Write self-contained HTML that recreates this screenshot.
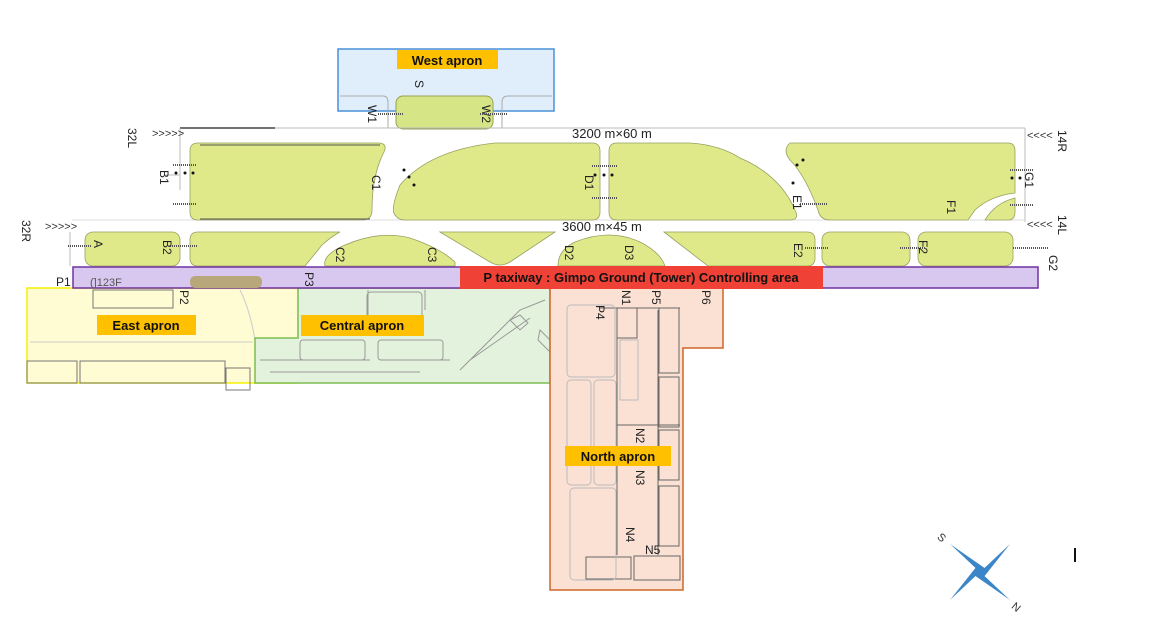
<!DOCTYPE html>
<html><head><meta charset="utf-8"><style>
html,body{margin:0;padding:0;background:#fff;}
svg{display:block;font-family:"Liberation Sans",sans-serif;}
.l{font-size:12px;fill:#222;}
.t{font-size:13px;font-weight:bold;fill:#111;}
</style></head><body>
<svg width="1159" height="631" viewBox="0 0 1159 631" xmlns="http://www.w3.org/2000/svg">
<!-- West apron -->
<rect x="338" y="49" width="216" height="62" fill="#e0eefb" stroke="#4a90d9" stroke-width="1.5"/>
<path d="M340 96 H383 Q388 96 388 102 V128" fill="none" stroke="#aaa"/>
<path d="M552 96 H508 Q502 96 502 102 V128" fill="none" stroke="#aaa"/>
<rect x="396" y="96" width="97" height="33" rx="7" fill="#d6e586" stroke="#9aa050"/>
<rect x="397" y="50" width="101" height="19" fill="#ffc000"/>
<text x="447" y="65" text-anchor="middle" class="t">West apron</text>
<text class="l" transform="translate(415,80) rotate(90)">S</text>
<text class="l" transform="translate(368,105) rotate(90)">W1</text>
<text class="l" transform="translate(482,105) rotate(90)">W2</text>
<!-- runway edges -->
<line x1="180" y1="128" x2="1025" y2="128" stroke="#bbb"/>
<line x1="180" y1="128" x2="275" y2="128" stroke="#444" stroke-width="1.5"/>
<path d="M180 128 V190 M180 175 H165 M70 232 V266" stroke="#bbb" fill="none"/>
<line x1="1025" y1="128" x2="1025" y2="222" stroke="#bbb"/>
<line x1="72" y1="220" x2="1025" y2="220" stroke="#ddd"/>
<text x="152" y="137" font-size="11" fill="#333">&gt;&gt;&gt;&gt;&gt;</text>
<text x="45" y="230" font-size="11" fill="#333">&gt;&gt;&gt;&gt;&gt;</text>
<text x="1027" y="139" font-size="11" fill="#333">&lt;&lt;&lt;&lt;</text>
<text x="1027" y="228" font-size="11" fill="#333">&lt;&lt;&lt;&lt;</text>
<text class="l" transform="translate(128,128) rotate(90)">32L</text>
<text class="l" transform="translate(22,220) rotate(90)">32R</text>
<text class="l" transform="translate(1058,130) rotate(90)">14R</text>
<text class="l" transform="translate(1058,215) rotate(90)">14L</text>
<text x="572" y="138" font-size="13" fill="#222">3200 m×60 m</text>
<text x="562" y="231" font-size="13" fill="#222">3600 m×45 m</text>
<!-- upper grass -->
<g fill="#dfe98a" stroke="#98a060" stroke-width="0.8">
<path d="M198 143 H378 Q388 143 384 152 Q372 175 372 210 Q372 220 362 220 H198 Q190 220 190 212 V151 Q190 143 198 143Z"/>
<path d="M405 220 H592 Q600 220 600 212 V151 Q600 143 592 143 H495 Q430 150 400 185 Q390 210 395 215 Q398 220 405 220Z"/>
<path d="M617 220 H790 Q800 220 795 210 Q780 175 740 158 Q720 145 690 143 H617 Q609 143 609 151 V212 Q609 220 617 220Z"/>
<path d="M790 143 H1008 Q1015 143 1015 151 V193 Q990 196 975 210 L968 220 H830 Q820 220 818 210 Q805 175 790 160 Q782 150 790 143Z"/>
<path d="M985 220 H1008 Q1015 220 1015 212 V198 Q995 203 985 220Z"/>
<!-- lower grass -->
<rect x="85" y="232" width="95" height="34" rx="8"/>
<path d="M198 232 H340 Q332 236 322 245 L305 266 H198 Q190 266 190 258 V240 Q190 232 198 232Z"/>
<path d="M325 266 Q322 255 345 245 Q380 230 410 238 Q440 248 455 262 L455 266Z"/>
<path d="M440 232 H555 L510 262 Q500 268 490 262Z"/>
<path d="M558 266 Q558 250 575 242 Q610 228 640 242 Q660 252 665 266Z"/>
<path d="M664 232 H807 Q815 232 815 240 V258 Q815 266 807 266 H708Z"/>
<rect x="822" y="232" width="88" height="34" rx="8"/>
<rect x="918" y="232" width="95" height="34" rx="8"/>
</g>
<line x1="200" y1="145" x2="380" y2="145" stroke="#555"/>
<line x1="200" y1="219" x2="370" y2="219" stroke="#555"/>
<!-- hold marks -->
<g stroke="#555" stroke-width="2" stroke-dasharray="1 1">
<line x1="173" y1="165" x2="197" y2="165"/><line x1="173" y1="204" x2="197" y2="204"/>
<line x1="68" y1="246" x2="92" y2="246"/><line x1="170" y1="246" x2="197" y2="246"/>
<line x1="592" y1="166" x2="617" y2="166"/><line x1="592" y1="198" x2="617" y2="198"/>
<line x1="800" y1="204" x2="828" y2="204"/><line x1="1010" y1="170" x2="1033" y2="170"/>
<line x1="1010" y1="205" x2="1033" y2="205"/><line x1="805" y1="248" x2="828" y2="248"/>
<line x1="900" y1="248" x2="925" y2="248"/><line x1="1013" y1="248" x2="1048" y2="248"/>
<line x1="378" y1="114" x2="404" y2="114"/><line x1="480" y1="114" x2="508" y2="114"/>
</g>
<g fill="#111"><circle cx="176" cy="173" r="1.5"/><circle cx="185" cy="173" r="1.5"/><circle cx="193" cy="173" r="1.5"/>
<circle cx="404" cy="170" r="1.5"/><circle cx="409" cy="177" r="1.5"/><circle cx="414" cy="185" r="1.5"/>
<circle cx="595" cy="175" r="1.5"/><circle cx="604" cy="175" r="1.5"/><circle cx="612" cy="175" r="1.5"/>
<circle cx="793" cy="183" r="1.5"/><circle cx="797" cy="165" r="1.5"/><circle cx="803" cy="160" r="1.5"/>
<circle cx="1012" cy="178" r="1.5"/><circle cx="1020" cy="178" r="1.5"/></g>
<g class="l">
<text transform="translate(160,170) rotate(90)">B1</text>
<text transform="translate(372,175) rotate(90)">C1</text>
<text transform="translate(585,175) rotate(90)">D1</text>
<text transform="translate(793,195) rotate(90)">E1</text>
<text transform="translate(947,200) rotate(90)">F1</text>
<text transform="translate(1025,172) rotate(90)">G1</text>
<text transform="translate(94,240) rotate(90)">A</text>
<text transform="translate(163,240) rotate(90)">B2</text>
<text transform="translate(336,247) rotate(90)">C2</text>
<text transform="translate(428,247) rotate(90)">C3</text>
<text transform="translate(565,245) rotate(90)">D2</text>
<text transform="translate(625,245) rotate(90)">D3</text>
<text transform="translate(794,243) rotate(90)">E2</text>
<text transform="translate(919,240) rotate(90)">F2</text>
<text transform="translate(1049,255) rotate(90)">G2</text>
</g>
<!-- aprons -->
<rect x="27" y="288" width="271" height="95" fill="#fffbd2" stroke="#f5f000" stroke-width="1.5"/>
<rect x="93" y="290" width="80" height="18" fill="none" stroke="#777"/>
<rect x="27" y="361" width="50" height="22" fill="none" stroke="#777"/>
<rect x="80" y="361" width="145" height="22" fill="none" stroke="#777"/>
<rect x="226" y="368" width="24" height="22" fill="none" stroke="#777"/>
<path d="M30 342 H253 M240 290 Q250 310 255 340" stroke="#ccc" fill="none"/>
<path d="M298 288 H550 V383 H255 V338 H298Z" fill="#e3f2dc" stroke="#7cbe52" stroke-width="1.5"/>
<g stroke="#999" fill="none"><path d="M260 360 H370 M380 360 H450 M270 372 H420 M368 290 V330 M425 290 V310 M460 370 L520 310 L545 300 M470 360 L530 318"/>
<rect x="367" y="292" width="55" height="42" rx="4"/><rect x="300" y="340" width="65" height="20" rx="3"/><rect x="378" y="340" width="65" height="20" rx="3"/>
<path d="M510 320 L520 330 L528 323 L520 315Z M540 330 L555 345 L550 352 L538 340Z"/></g>
<path d="M550 288 H723 V348 H683 V590 H550Z" fill="#fbe1d4" stroke="#d0652a" stroke-width="1.5"/>
<g stroke="#666" fill="none" stroke-width="1"><rect x="617" y="308" width="20" height="30"/><rect x="659" y="308" width="20" height="65"/>
<path d="M617 308 V555 M658 310 V555 M617 425 H680 M600 308 H680"/>
<rect x="659" y="377" width="20" height="50"/><rect x="659" y="430" width="20" height="50"/><rect x="659" y="486" width="20" height="60"/>
<rect x="586" y="557" width="45" height="22"/><rect x="634" y="556" width="46" height="24"/></g>
<g stroke="#bbb" fill="none"><rect x="567" y="305" width="48" height="72" rx="4"/><rect x="567" y="380" width="24" height="105" rx="4"/><rect x="594" y="380" width="22" height="105" rx="4"/><rect x="570" y="488" width="46" height="92" rx="4"/><rect x="620" y="340" width="18" height="60"/></g>
<!-- P taxiway -->
<rect x="73" y="267" width="965" height="21" fill="#d8c8ef" stroke="#7030a0" stroke-width="1.5"/>
<rect x="190" y="276" width="72" height="12" rx="5" fill="#b8a77a"/>
<text x="90" y="286" font-size="11" fill="#555">(]123F</text>
<text x="56" y="286" font-size="12" fill="#222">P1</text>
<text class="l" transform="translate(180,290) rotate(90)">P2</text>
<text class="l" transform="translate(305,272) rotate(90)" fill="#777">P3</text>
<rect x="460" y="266" width="363" height="23" fill="#ef4136"/>
<text x="641" y="282" text-anchor="middle" class="t">P taxiway : Gimpo Ground (Tower) Controlling area</text>
<g class="l"><text transform="translate(596,305) rotate(90)">P4</text><text transform="translate(622,290) rotate(90)">N1</text>
<text transform="translate(652,290) rotate(90)">P5</text><text transform="translate(702,290) rotate(90)">P6</text>
<text transform="translate(636,428) rotate(90)">N2</text><text transform="translate(636,470) rotate(90)">N3</text>
<text transform="translate(626,527) rotate(90)">N4</text><text x="645" y="554">N5</text></g>
<rect x="97" y="315" width="99" height="20" fill="#ffc000"/>
<text x="146" y="330" text-anchor="middle" class="t">East apron</text>
<rect x="301" y="315" width="123" height="21" fill="#ffc000"/>
<text x="362" y="330" text-anchor="middle" class="t">Central apron</text>
<rect x="565" y="446" width="106" height="20" fill="#ffc000"/>
<text x="618" y="461" text-anchor="middle" class="t">North apron</text>
<!-- compass -->
<g transform="translate(980,572)">
<polygon points="-30,-28 6,-3 3,3" fill="#3b86c8"/><polygon points="30,28 -6,3 -3,-3" fill="#3b86c8"/>
<polygon points="30,-28 3,6 -3,3" fill="#3b86c8"/><polygon points="-30,28 -3,-6 3,-3" fill="#3b86c8"/>
<text x="-42" y="-32" font-size="11" fill="#333" transform="rotate(40,-40,-35)">S</text>
<text x="32" y="38" font-size="11" fill="#333" transform="rotate(40,35,35)">N</text>
</g>
<rect x="1074" y="548" width="2" height="14" fill="#111"/>
</svg>
</body></html>
